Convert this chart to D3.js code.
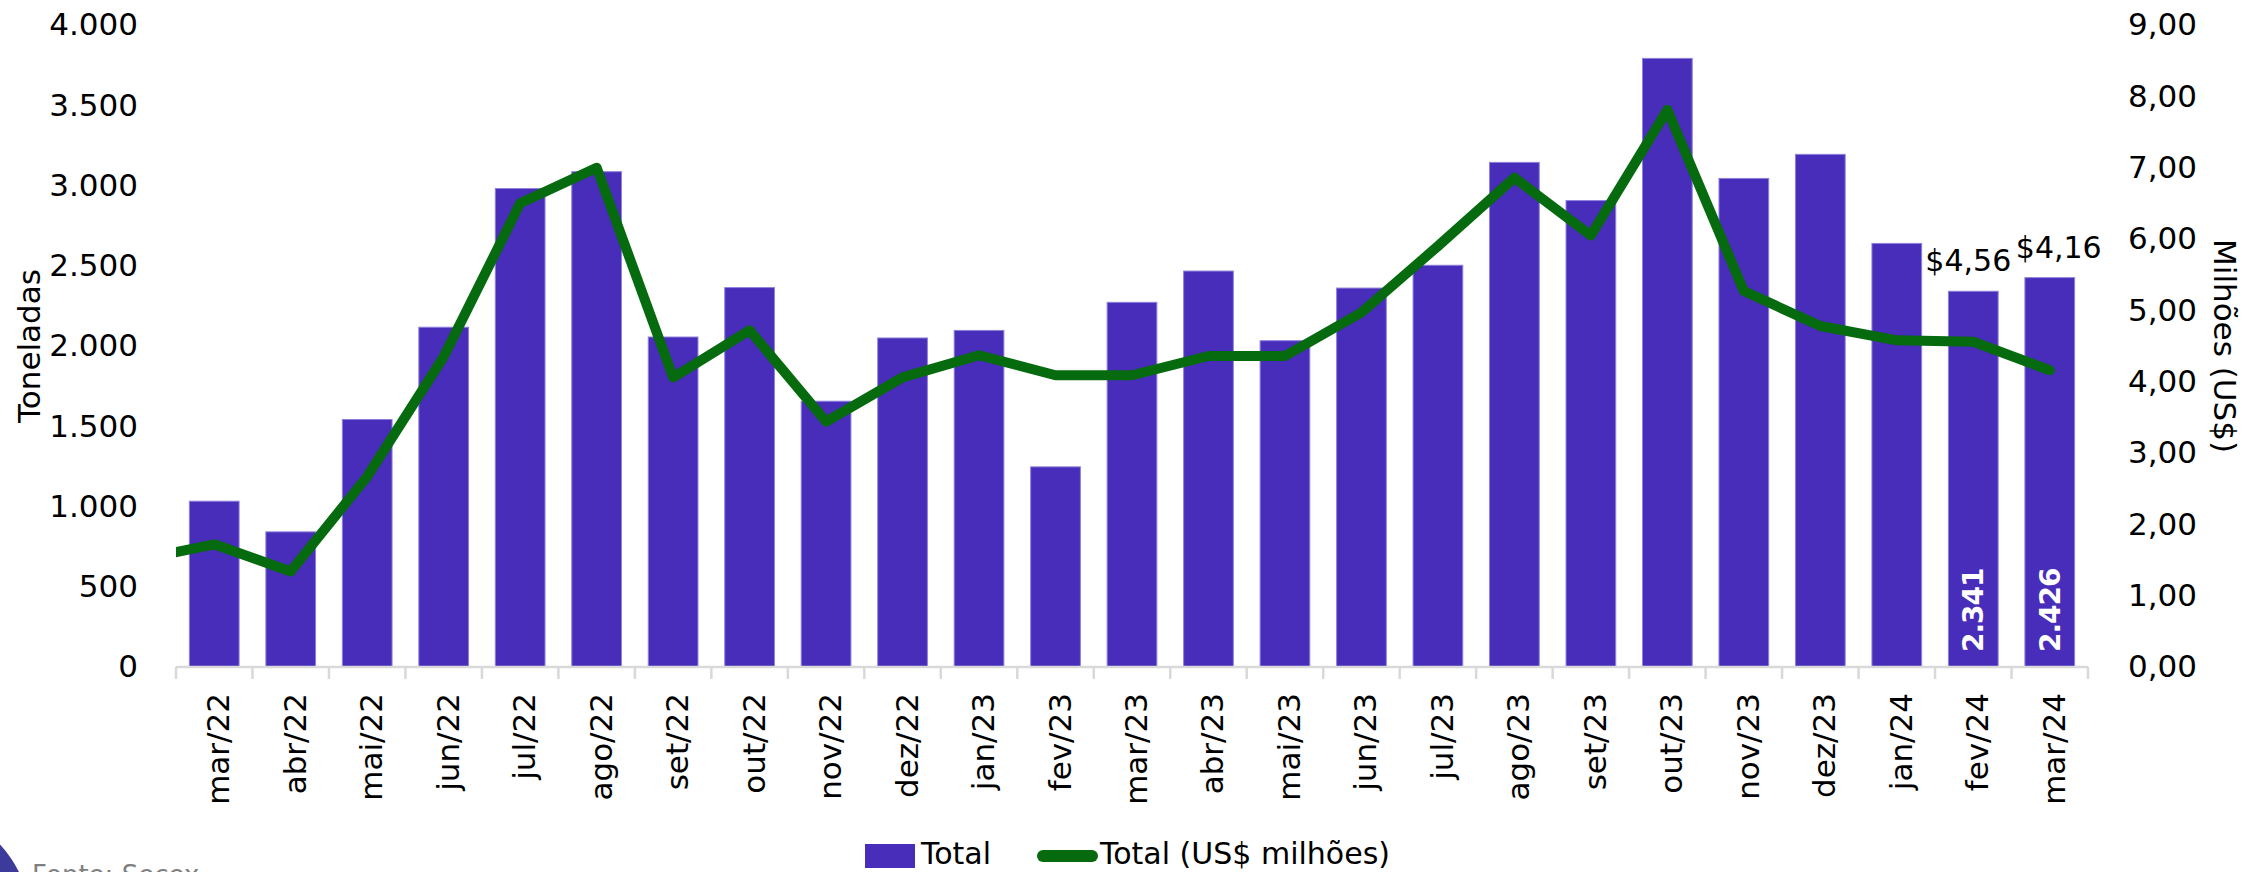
<!DOCTYPE html>
<html>
<head>
<meta charset="utf-8">
<script src="https://cdn.jsdelivr.net/npm/d3@7"></script>
<style>
  html, body { margin: 0; padding: 0; background: #ffffff; overflow: hidden; }
  svg { display: block; }
  text { font-family: "DejaVu Sans", sans-serif; fill: #000; }
</style>
</head>
<body>
<svg id="chart" width="2247" height="872"></svg>
<script>
// ---------------- DATA ----------------
const categories = ["mar/22","abr/22","mai/22","jun/22","jul/22","ago/22","set/22","out/22","nov/22","dez/22",
  "jan/23","fev/23","mar/23","abr/23","mai/23","jun/23","jul/23","ago/23","set/23","out/23",
  "nov/23","dez/23","jan/24","fev/24","mar/24"];
const tons = [1033, 842, 1542, 2117, 2981, 3086, 2056, 2364, 1656, 2050,
  2097, 1247, 2272, 2467, 2033, 2361, 2503, 3144, 2906, 3792,
  3044, 3194, 2639, 2341, 2426];
const usdMillions = [1.72, 1.34, 2.67, 4.35, 6.50, 7.00, 4.06, 4.72, 3.44, 4.06,
  4.37, 4.09, 4.09, 4.36, 4.36, 4.97, 5.90, 6.86, 6.05, 7.81,
  5.27, 4.78, 4.58, 4.56, 4.16];
// previous month (fev/22), only its segment toward mar/22 is visible (clipped at the plot edge)
const usdLeadIn = 1.50;
const leftTicks = [0, 500, 1000, 1500, 2000, 2500, 3000, 3500, 4000];
const rightTicks = [0, 1, 2, 3, 4, 5, 6, 7, 8, 9];
const barLabelCats = ["fev/24", "mar/24"];      // bars with a value label
const lineLabelCats = ["fev/24", "mar/24"];     // months with US$ label
const legendItems = ["Total", "Total (US$ milhões)"];
const yLeftTitle = "Toneladas";
const yRightTitle = "Milhões (US$)";
const sourceText = "Fonte: Secex";

// ---------------- LAYOUT ----------------
const svg = d3.select("#chart");
const plot = { left: 176, right: 2088, top: 25, bottom: 667 };
const barColor = "#482cba";
const lineColor = "#066a0e";
const fontSize = 31;
const usdLabelDx = [-5, 9];   // horizontal nudge of the two US$ labels (layout only)

const x = d3.scaleBand().domain(categories).range([plot.left, plot.right])
  .paddingInner(0.35).paddingOuter(0.175);
const step = x.step();
const xc = c => x(c) + x.bandwidth() / 2;
const yL = d3.scaleLinear().domain([0, 4000]).range([plot.bottom, plot.top]);
const yR = d3.scaleLinear().domain([0, 9]).range([plot.bottom, plot.top]);

const loc = d3.formatLocale({decimal: ",", thousands: ".", grouping: [3], currency: ["$", ""]});
const fmtL = loc.format(",.0f");
const fmtR = loc.format(",.2f");
const fmtUsd = loc.format("$,.2f");

// bars
svg.append("g").selectAll("rect").data(categories).join("rect")
  .attr("x", c => x(c))
  .attr("y", (c, i) => yL(tons[i]))
  .attr("width", x.bandwidth())
  .attr("height", (c, i) => yL(0) - yL(tons[i]))
  .attr("fill", barColor)
  .attr("stroke", "#8d80dc")
  .attr("stroke-width", 1);

// x axis line and boundary ticks
const axisG = svg.append("g").attr("transform", `translate(0,${plot.bottom})`);
axisG.call(d3.axisBottom(x).tickSize(0).tickPadding(0).tickFormat(""));
axisG.select(".domain").attr("stroke", "#d9d9d9").attr("stroke-width", 2.5)
  .attr("d", `M${plot.left},0H${plot.right}`);
const boundaries = categories.map(c => xc(c) - step / 2)
  .concat([xc(categories[categories.length - 1]) + step / 2]);
axisG.selectAll("line.bt").data(boundaries).join("line")
  .attr("class", "bt")
  .attr("x1", d => d).attr("x2", d => d)
  .attr("y1", 0).attr("y2", 12)
  .attr("stroke", "#d9d9d9").attr("stroke-width", 2.5);

// x labels (rotated)
svg.append("g").selectAll("text").data(categories).join("text")
  .attr("transform", c => `translate(${xc(c) + 15},${plot.bottom + 26}) rotate(-90)`)
  .attr("text-anchor", "end")
  .attr("font-size", fontSize)
  .text(c => c);

// left axis
const gl = svg.append("g").attr("transform", `translate(${plot.left - 38},0)`)
  .call(d3.axisLeft(yL).tickValues(leftTicks).tickSize(0).tickPadding(0).tickFormat(fmtL));
gl.select(".domain").remove();
gl.selectAll("text").attr("font-size", fontSize).attr("font-family", "DejaVu Sans").attr("fill", "#000");

// right axis
const gr = svg.append("g").attr("transform", `translate(${plot.right + 40},0)`)
  .call(d3.axisRight(yR).tickValues(rightTicks).tickSize(0).tickPadding(0).tickFormat(fmtR));
gr.select(".domain").remove();
gr.selectAll("text").attr("font-size", fontSize).attr("font-family", "DejaVu Sans").attr("fill", "#000");

// axis titles
svg.append("text")
  .attr("transform", `translate(40,346) rotate(-90)`)
  .attr("text-anchor", "middle").attr("font-size", fontSize)
  .text(yLeftTitle);
svg.append("text")
  .attr("transform", `translate(2214,346) rotate(90)`)
  .attr("text-anchor", "middle").attr("font-size", fontSize)
  .text(yRightTitle);

// line (clipped to plot area)
svg.append("defs").append("clipPath").attr("id", "plotClip")
  .append("rect").attr("x", plot.left).attr("y", 0)
  .attr("width", plot.right - plot.left).attr("height", plot.bottom + 10);
const linePts = [[xc(categories[0]) - step, yR(usdLeadIn)]]
  .concat(categories.map((c, i) => [xc(c), yR(usdMillions[i])]));
svg.append("path")
  .attr("clip-path", "url(#plotClip)")
  .attr("d", d3.line()(linePts))
  .attr("fill", "none")
  .attr("stroke", lineColor)
  .attr("stroke-width", 10)
  .attr("stroke-linejoin", "round")
  .attr("stroke-linecap", "round");

// bar value labels (inside, rotated, white bold)
svg.append("g").selectAll("text").data(barLabelCats).join("text")
  .attr("transform", c => `translate(${xc(c) + 10},${plot.bottom - 15}) rotate(-90)`)
  .attr("text-anchor", "start")
  .attr("font-family", "Roboto").attr("font-weight", 700)
  .attr("font-size", 28).attr("letter-spacing", "-1px")
  .style("fill", "#ffffff")
  .text(c => fmtL(tons[categories.indexOf(c)]));

// US$ labels above bars
svg.append("g").selectAll("text").data(lineLabelCats).join("text")
  .attr("x", (c, i) => xc(c) + usdLabelDx[i])
  .attr("y", c => yL(tons[categories.indexOf(c)]) - 20)
  .attr("text-anchor", "middle")
  .attr("font-size", 30)
  .text(c => fmtUsd(usdMillions[categories.indexOf(c)]));

// legend
const lg = svg.append("g");
lg.append("rect").attr("x", 865).attr("y", 844).attr("width", 50).attr("height", 24).attr("fill", barColor);
lg.append("text").attr("x", 921).attr("y", 864).attr("font-size", 30).text(legendItems[0]);
lg.append("line").attr("x1", 1043).attr("x2", 1092).attr("y1", 856).attr("y2", 856)
  .attr("stroke", lineColor).attr("stroke-width", 12).attr("stroke-linecap", "round");
lg.append("text").attr("x", 1100).attr("y", 864).attr("font-size", 30).text(legendItems[1]);

// source + decorative circle (cut off at the bottom, as in the original)
svg.append("circle").attr("cx", -80).attr("cy", 920).attr("r", 110).attr("fill", "#3c3a9a");
svg.append("text").attr("x", 32).attr("y", 884)
  .attr("font-family", "Roboto").attr("font-size", 26)
  .style("fill", "#7f7f7f").text(sourceText);
</script>
</body>
</html>
